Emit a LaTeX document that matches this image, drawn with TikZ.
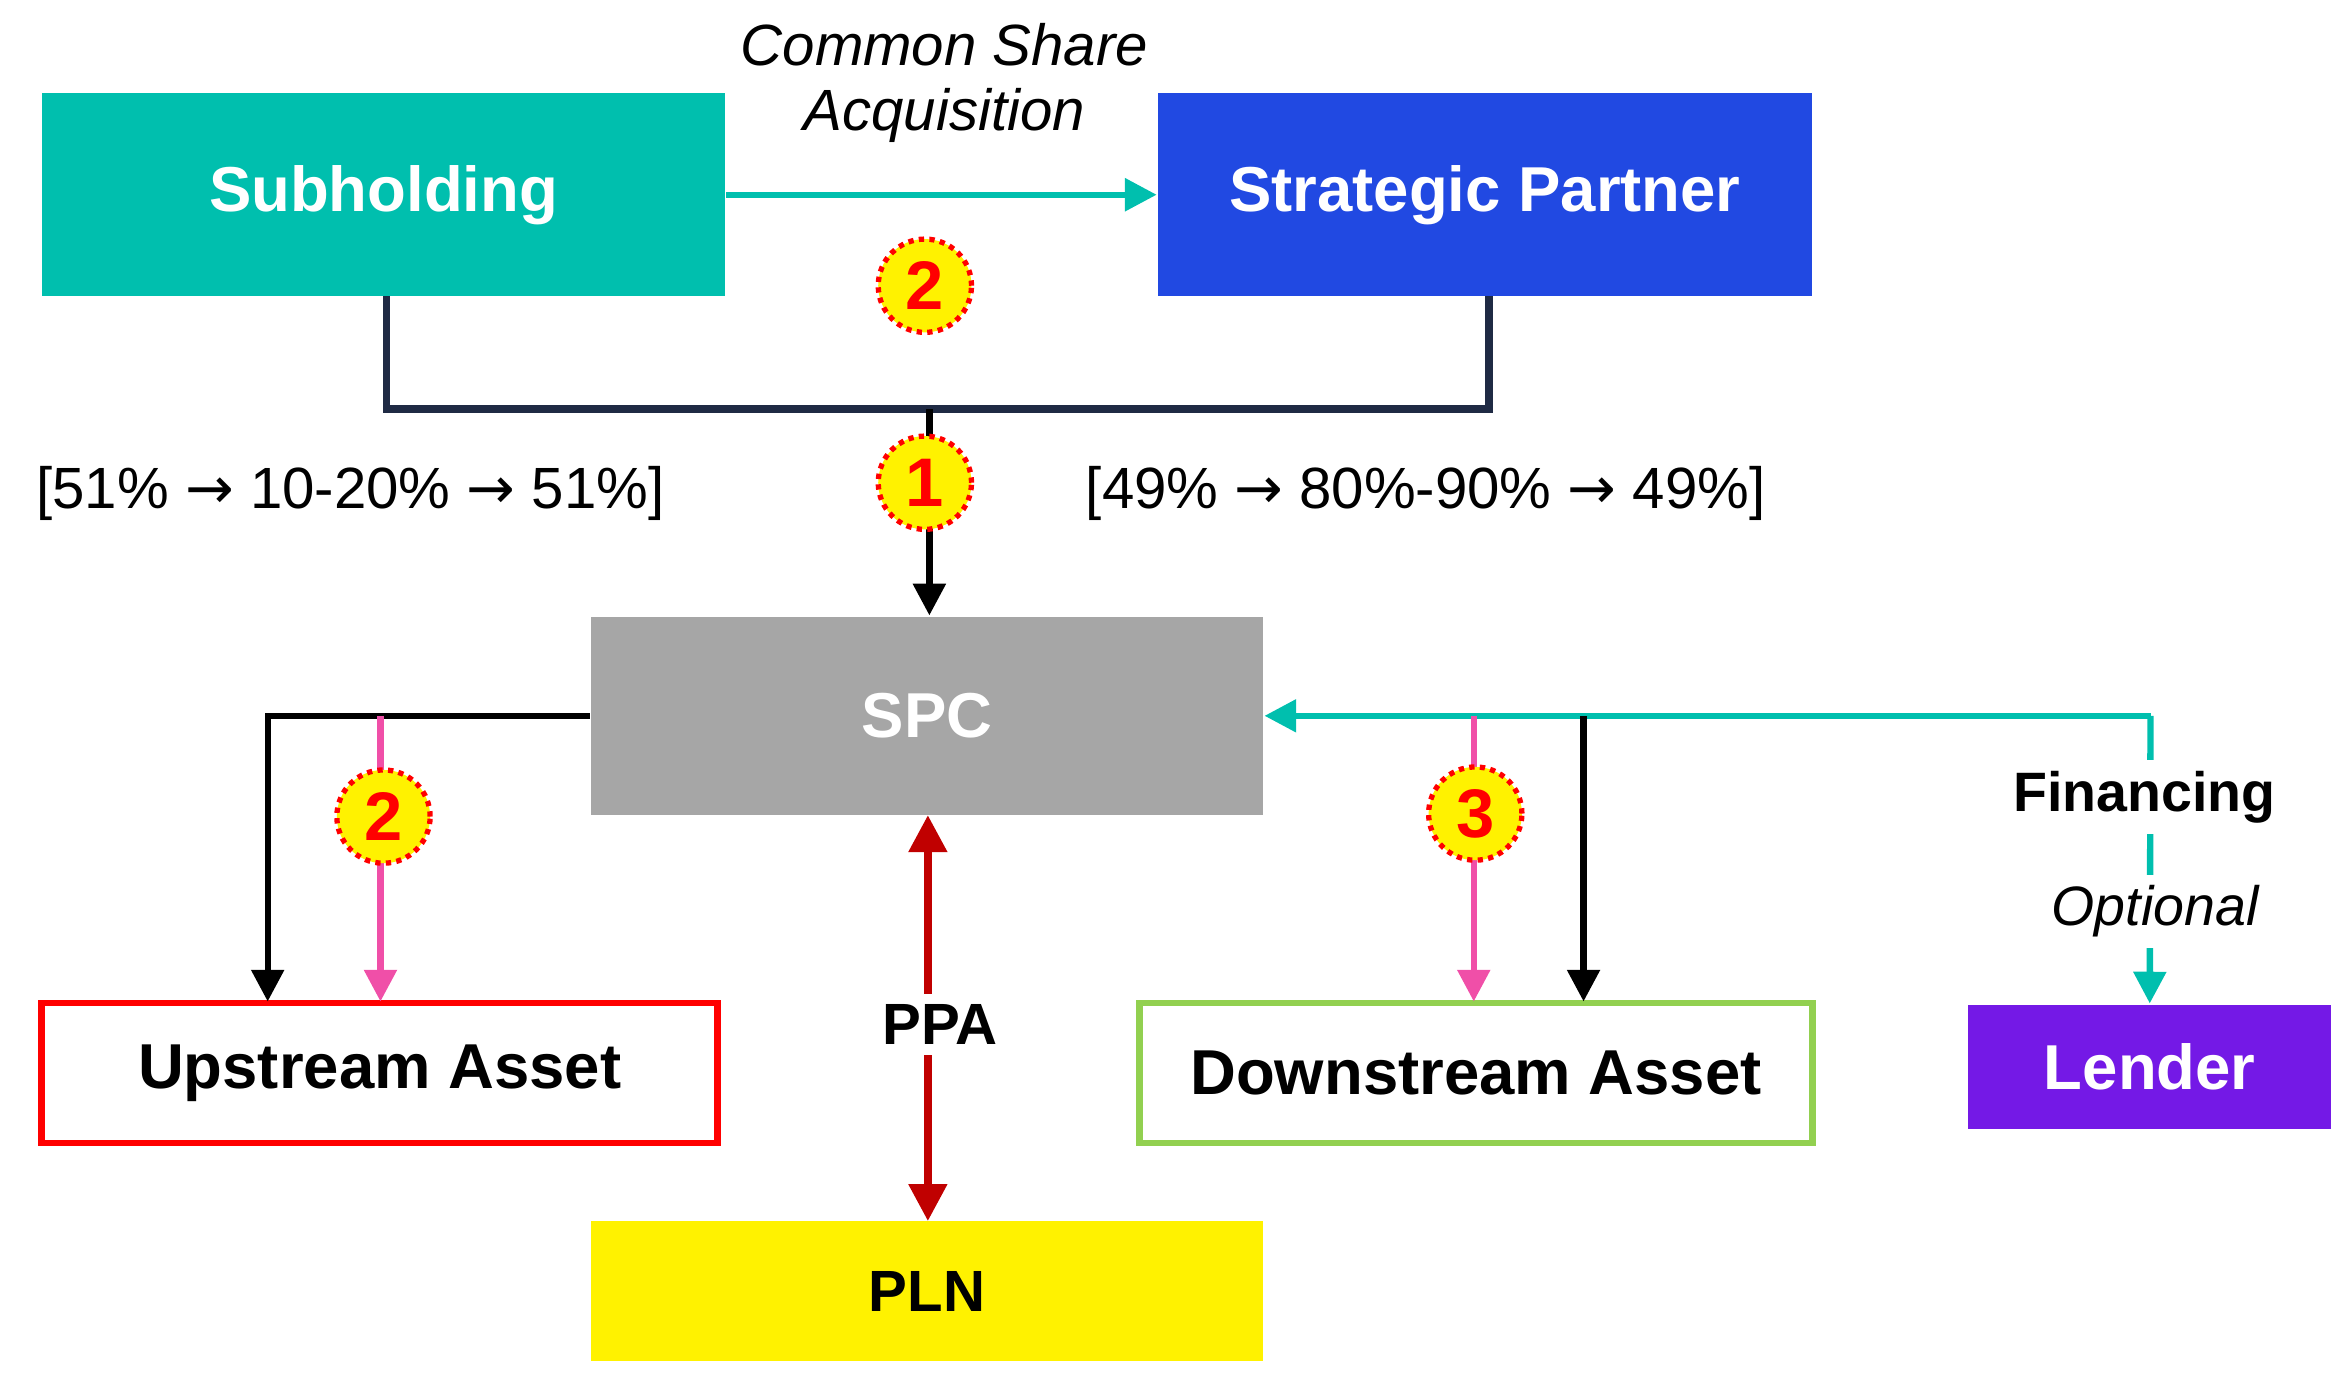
\documentclass[tikz,border=0pt]{standalone}
\usepackage{fontspec}
\setmainfont{Liberation Sans}
\newfontfamily\arrfont{DejaVu Sans}
\usetikzlibrary{arrows.meta}
\definecolor{teal1}{HTML}{00BFAE}
\definecolor{blue1}{HTML}{2149E2}
\definecolor{gray1}{HTML}{A6A6A6}
\definecolor{navy1}{HTML}{1F2A44}
\definecolor{pink1}{HTML}{F04FA8}
\definecolor{red1}{HTML}{C00000}
\definecolor{green1}{HTML}{92D050}
\definecolor{purple1}{HTML}{7419E6}
\newcommand{\myarr}{{\arrfont →}}
\tikzset{
 box/.style={rectangle,inner sep=0pt,font=\fontsize{12}{14}\selectfont\bfseries},
 numc/.style={circle,fill=yellow,draw=red,densely dotted,line width=1pt,minimum size=0.62cm,inner sep=0pt,text=red,font=\fontsize{13}{15}\selectfont\bfseries},
 arr/.style={-{Triangle[length=6pt,width=6pt]},line width=1.2pt},
 lbl/.style={font=\fontsize{10.5}{12}\selectfont}
}
\begin{document}
\begin{tikzpicture}[x=0.01cm,y=-0.01cm]
\useasboundingbox (0,0) rectangle (1560,916);
\node[box,fill=teal1,text=white,minimum width=4.54cm,minimum height=1.35cm] (sub) at (255,129.5) {Subholding};
\node[box,fill=blue1,text=white,minimum width=4.35cm,minimum height=1.35cm] (sp) at (987.5,129.5) {Strategic Partner};
\node[box,fill=gray1,text=white,minimum width=4.47cm,minimum height=1.32cm] (spc) at (616.5,476) {SPC};
\node[box,fill=white,draw=red,line width=1.3pt,minimum width=4.49cm,minimum height=0.93cm] (up) at (252.5,713.5) {Upstream Asset};
\node[box,fill=white,draw=green1,line width=1.3pt,minimum width=4.47cm,minimum height=0.93cm] (down) at (981.5,713.5) {Downstream Asset};
\node[box,fill=yellow,font=\fontsize{11}{13}\selectfont\bfseries,minimum width=4.47cm,minimum height=0.93cm] (pln) at (616.5,858.5) {PLN};
\node[box,fill=purple1,text=white,minimum width=2.41cm,minimum height=0.83cm] (lender) at (1429.5,709.5) {Lender};

\draw[arr,teal1] (sub.east) -- (sp.west);
\node[lbl,font=\fontsize{11}{13}\selectfont\itshape] (csa1) at (628,30) {Common Share};
\node[lbl,font=\fontsize{11}{13}\selectfont\itshape] (csa2) at (628,77) {Acquisition};

\coordinate (j1) at (257,272);
\coordinate (j2) at (990,272);
\coordinate (jm) at (618,272);
\draw[navy1,line width=1.5pt] (257,197) -- (j1) -- (j2) -- (990,197);
\draw[arr,black] (jm) -- (spc.north -| jm);
\node[numc] (c2a) at (615,190) {2};
\node[numc] (c1) at (615,321) {1};
\node[lbl,font=\fontsize{11}{13}\selectfont] (l51) at (233,328) {[51\% \myarr{} 10-20\% \myarr{} 51\%]};
\node[lbl,font=\fontsize{11}{13}\selectfont] (l49) at (948,328) {[49\% \myarr{} 80\%-90\% \myarr{} 49\%]};

\draw[arr,black] (spc.west) -- (178,476) -- (178,666);
\draw[arr,pink1] (253,476) -- (253,666);
\node[numc] (c2b) at (255,543) {2};

\draw[{Triangle[length=7pt,width=7pt]}-{Triangle[length=7pt,width=7pt]},red1,line width=1.5pt] (617,542) -- (617,812);
\node[fill=white,inner sep=2pt,font=\fontsize{11}{13}\selectfont\bfseries] (ppa) at (625,681) {PPA};

\coordinate (lt) at (1430,476);
\draw[arr,teal1] (lt) -- (spc.east);
\draw[arr,teal1] (lt) -- (lender.north);
\draw[arr,pink1] (980,476) -- (980,666);
\draw[arr,black] (1053,476) -- (1053,666);
\node[numc] (c3) at (981,541) {3};
\node[fill=white,inner sep=2pt,font=\fontsize{10.5}{12}\selectfont\bfseries] (fin) at (1426,530) {Financing};
\node[fill=white,inner sep=2pt,font=\fontsize{10.5}{12}\selectfont\itshape] (opt) at (1433,606) {Optional};
\end{tikzpicture}
\end{document}
